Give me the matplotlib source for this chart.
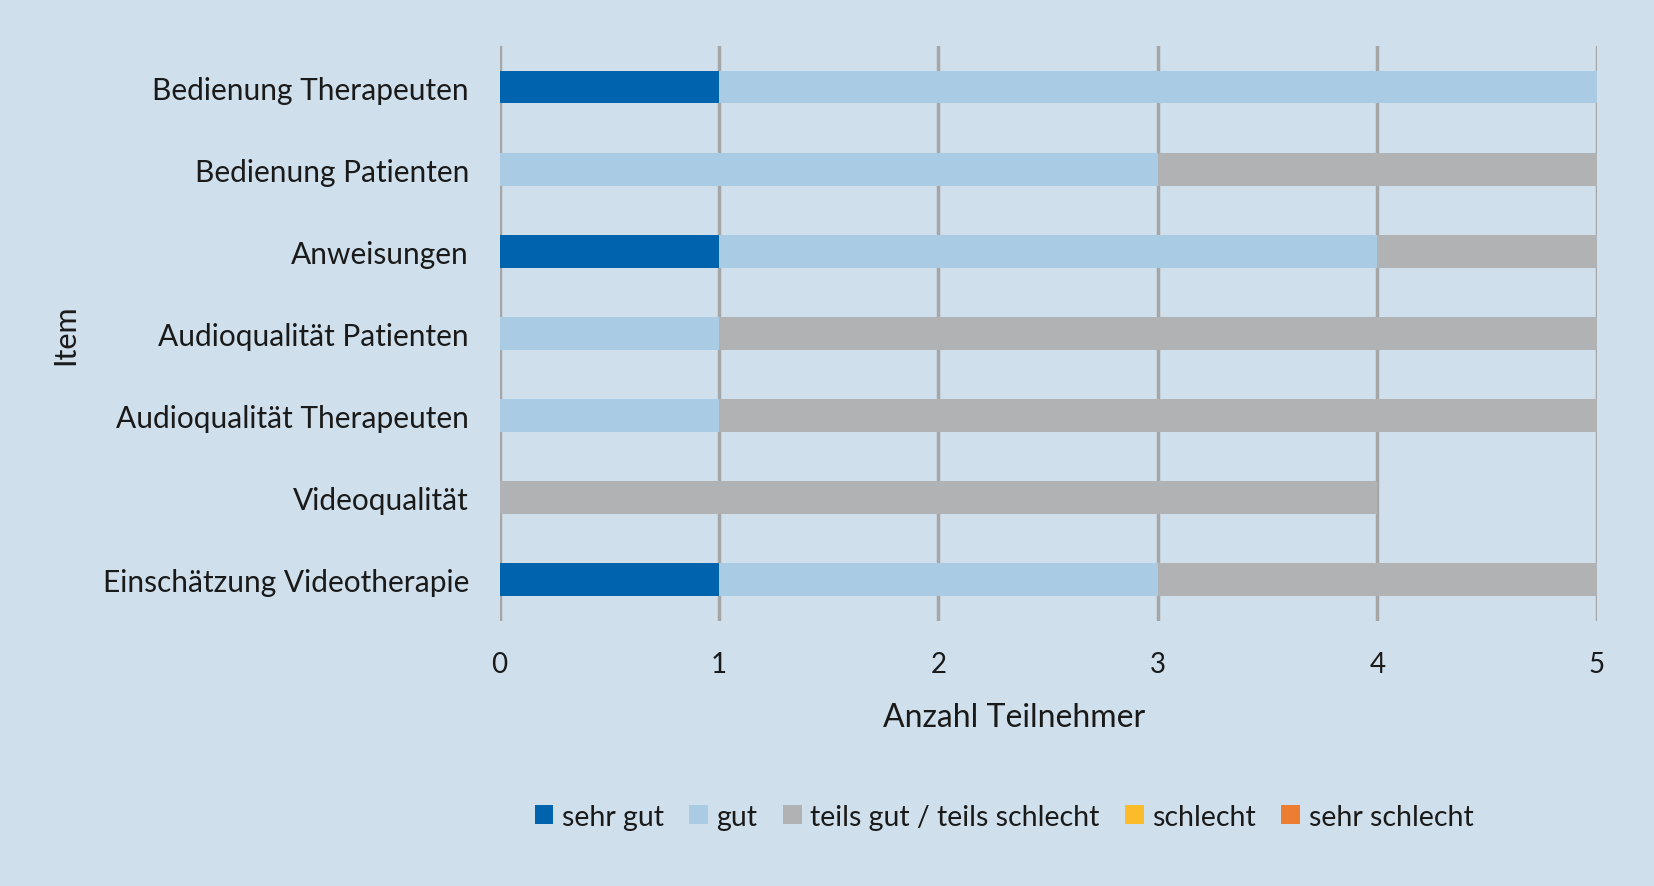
import numpy as np
import matplotlib.pyplot as plt

plt.rcParams['font.family'] = ['Lato', 'DejaVu Sans']

# Items (top to bottom as shown)
items = ["Bedienung Therapeuten", "Bedienung Patienten", "Anweisungen",
         "Audioqualität Patienten", "Audioqualität Therapeuten",
         "Videoqualität", "Einschätzung Videotherapie"]
categories = ["sehr gut", "gut", "teils gut / teils schlecht", "schlecht", "sehr schlecht"]
sehr_gut = [1, 0, 1, 0, 0, 0, 1]
gut = [4, 3, 3, 1, 1, 0, 2]
teils = [0, 2, 1, 4, 4, 4, 2]
schlecht = [0, 0, 0, 0, 0, 0, 0]
sehr_schlecht = [0, 0, 0, 0, 0, 0, 0]
colors = ["#0063ae", "#a9cbe4", "#b1b2b4", "#fbbc2a", "#ed7d31"]

bg = "#cfe0ec"
fig = plt.figure(figsize=(16.54, 8.87), dpi=100, facecolor=bg)
ax = fig.add_axes([0.302, 0.299, 0.6635, 0.648], facecolor=bg)

y = np.arange(len(items))[::-1]
left = np.zeros(len(items))
for vals, lab, col in zip([sehr_gut, gut, teils, schlecht, sehr_schlecht], categories, colors):
    ax.barh(y, vals, left=left, height=0.4, color=col, label=lab, zorder=3)
    left += np.array(vals)

ax.set_xlim(0, 5)
ax.set_ylim(-0.5, 6.5)
ax.set_yticks(y)
ax.set_yticklabels(items, fontsize=21.5, color="#1a1a1a", va='center_baseline')
ax.set_xticks(range(6))
ax.tick_params(axis='x', labelsize=20, pad=22, length=0, colors="#1a1a1a")
ax.tick_params(axis='y', length=0, pad=22)
ax.grid(axis='x', color="#a6a6a6", lw=2.5, zorder=1)
for s in ax.spines.values():
    s.set_visible(False)
ax.set_xlabel("Anzahl Teilnehmer", fontsize=23, labelpad=16, color="#1a1a1a")
ax.xaxis.set_label_coords(0.469, -0.142)
ax.set_ylabel("Item", fontsize=22, labelpad=17, color="#1a1a1a")

fig.legend(loc='center', bbox_to_anchor=(0.607, 0.078), ncol=5, frameon=False,
           fontsize=20.5, handlelength=0.65, handleheight=0.65, handletextpad=0.3,
           columnspacing=0.9, labelcolor="#1a1a1a")

fig.savefig("out.png", dpi=100, facecolor=bg)
